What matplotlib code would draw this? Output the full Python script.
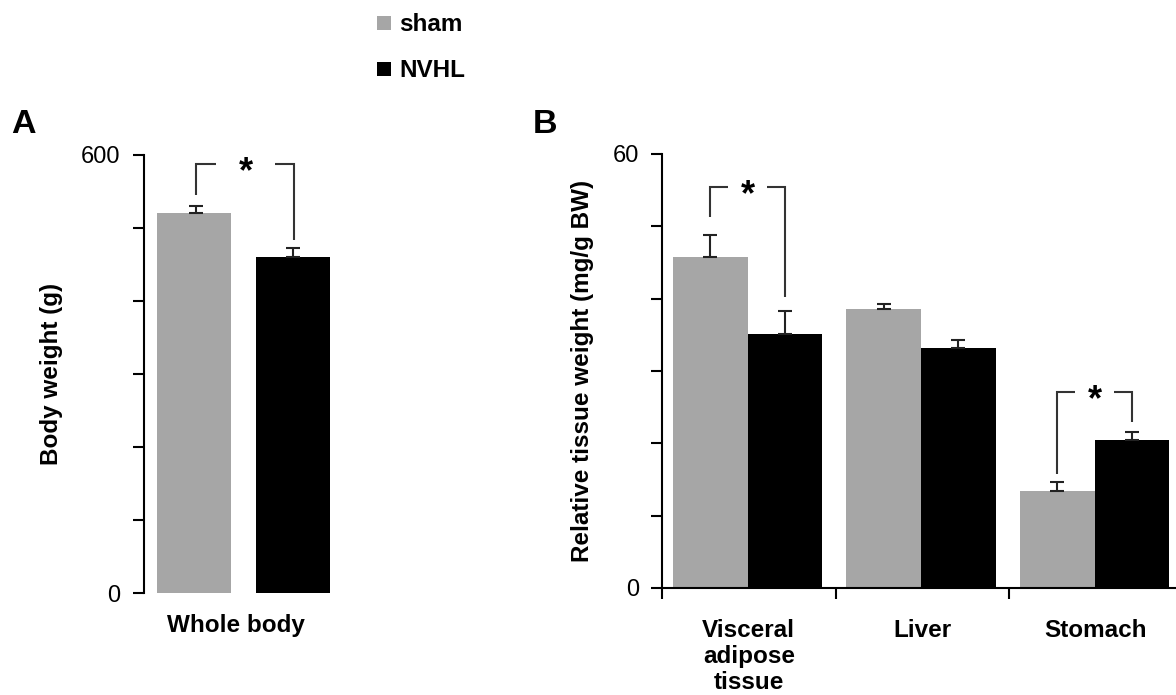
import matplotlib
matplotlib.use("Agg")
import matplotlib.pyplot as plt
from matplotlib.lines import Line2D

plt.rcParams['font.family'] = ['Liberation Sans', 'DejaVu Sans']

# ---- data ----
groups = ['sham', 'NVHL']
colors = ['#a6a6a6', '#000000']

cat_a = ['Whole body']
sham_a = [520]
sham_a_err = [10]
nvhl_a = [460]
nvhl_a_err = [12]

cat_b = ['Visceral\nadipose\ntissue', 'Liver', 'Stomach']
sham_b = [45.8, 38.6, 13.4]
sham_b_err = [3.0, 0.7, 1.3]
nvhl_b = [35.1, 33.2, 20.5]
nvhl_b_err = [3.2, 1.1, 1.1]

# significance brackets: (category, top, left leg bottom, right leg bottom)
sig_a = [(0, 588, 545, 484)]
sig_b = [(0, 55.5, 51.3, 40.2), (2, 27.1, 15.8, 23.0)]

W, H = 1176, 695
fig = plt.figure(figsize=(W / 100, H / 100), dpi=100)


def px_axes(left, top, width, height):
    return fig.add_axes([left / W, 1 - (top + height) / H, width / W, height / H])


LW = 1.5
FS = 17.5
err_kw = dict(ecolor='#222222', elinewidth=LW, capsize=4.7, capthick=LW)


def bracket(ax, xl, xr, top, yl, yr, gap):
    mid = (xl + xr) / 2
    kw = dict(color='#333333', lw=LW, solid_capstyle='butt', solid_joinstyle='miter')
    ax.plot([xl, xl, mid - gap], [yl, top, top], **kw)
    ax.plot([mid + gap, xr, xr], [top, top, yr], **kw)
    ax.annotate('*', xy=(mid, top), xytext=(0, -13.3), textcoords='offset points',
                ha='center', va='baseline', fontsize=26, fontweight='bold')


def style_y(ax, top, step):
    ticks = list(range(0, top + 1, step))
    labels = [str(t) if t in (0, top) else '' for t in ticks]
    ax.set_yticks(ticks, labels=labels)
    ax.set_ylim(0, top)
    ax.tick_params(axis='y', direction='out', length=8, width=LW, pad=8.5, labelsize=17)
    ax.spines['left'].set_linewidth(LW)
    for s in ('top', 'right'):
        ax.spines[s].set_visible(False)


# ---- panel A ----
axA = px_axes(143.5, 155, 200, 438)
xa = range(len(cat_a))
axA.bar([x - 0.0 for x in xa], sham_a, width=0.755, color=colors[0])
axA.bar([x + 1.0 for x in xa], nvhl_a, width=0.755, color=colors[1])
axA.errorbar([x + 0.02 for x in xa], sham_a, yerr=[[0] * len(xa), sham_a_err], fmt='none', **err_kw)
axA.errorbar([x + 1.0 for x in xa], nvhl_a, yerr=[[0] * len(xa), nvhl_a_err], fmt='none', **err_kw)
axA.set_xlim(-0.52, 1.52)
style_y(axA, 600, 100)
axA.spines['bottom'].set_visible(False)
axA.set_xticks([0.42], labels=cat_a)
axA.tick_params(axis='x', length=0, pad=15, labelsize=FS)
for lab in axA.get_xticklabels():
    lab.set_fontweight('bold')
for c, top, yl, yr in sig_a:
    bracket(axA, c + 0.02, c + 1.02, top, yl, yr, 0.30)

# ---- panel B ----
axB = px_axes(662, 154, 520.5, 434)
xb = list(range(len(cat_b)))
off_s, off_n, bw = -0.222, 0.208, 0.43
axB.bar([x + off_s for x in xb], sham_b, width=bw, color=colors[0])
axB.bar([x + off_n for x in xb], nvhl_b, width=bw, color=colors[1])
axB.errorbar([x + off_s for x in xb], sham_b, yerr=[[0] * len(xb), sham_b_err], fmt='none', **err_kw)
axB.errorbar([x + off_n for x in xb], nvhl_b, yerr=[[0] * len(xb), nvhl_b_err], fmt='none', **err_kw)
axB.set_xlim(-0.5, 2.5)
style_y(axB, 60, 10)
axB.spines['bottom'].set_linewidth(LW)
axB.set_xticks(xb, labels=cat_b)
axB.set_xticks([-0.5, 0.5, 1.5, 2.5], minor=True)
axB.tick_params(axis='x', which='major', length=0, pad=22, labelsize=FS)
axB.tick_params(axis='x', which='minor', direction='out', length=8, width=LW)
for lab in axB.get_xticklabels():
    lab.set_fontweight('bold')
    lab.set_linespacing(1.17)
for c, top, yl, yr in sig_b:
    bracket(axB, c + off_s, c + off_n, top, yl, yr, 0.113)

# ---- axis titles, panel letters ----
fig.text(52 / W, 1 - 374 / H, 'Body weight (g)', rotation=90, ha='center', va='center',
         fontsize=FS, fontweight='bold')
fig.text(582 / W, 1 - 371 / H, 'Relative tissue weight (mg/g BW)', rotation=90,
         ha='center', va='center', fontsize=FS, fontweight='bold')
fig.text(11 / W, 1 - 133 / H, 'A', fontsize=24.5, fontweight='bold', ha='left', va='baseline')
fig.text(533 / W, 1 - 133 / H, 'B', fontsize=24.5, fontweight='bold', ha='left', va='baseline')

# ---- legend ----
handles = [Line2D([], [], ls='none', marker='s', markersize=9.5, color=c, markeredgewidth=0)
           for c in colors]
fig.legend(handles, groups, loc='upper left', bbox_to_anchor=(363 / W, 1 - 1 / H),
           frameon=False, borderpad=0, handlelength=0.7, handletextpad=0.3,
           labelspacing=0.95, prop=dict(size=FS, weight='bold'))

fig.savefig('out.png', dpi=100)
